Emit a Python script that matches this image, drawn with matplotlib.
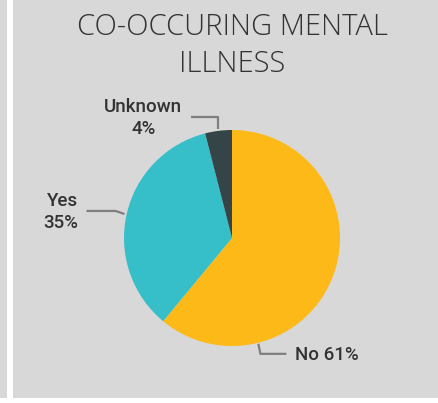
import numpy as np
import matplotlib

matplotlib.use("Agg")
import matplotlib.pyplot as plt
from matplotlib.patches import Rectangle

# data
labels = ["No", "Yes", "Unknown"]
shares = [61, 35, 4]
colors = ["#FDB918", "#36BFC8", "#344447"]
title = "CO-OCCURING MENTAL\nILLNESS"

W, H = 438, 403
PANEL = "#D8D8D8"
TEXT = "#333333"
LINE = "#7F7F7F"

fig = plt.figure(figsize=(W / 100, H / 100), dpi=100)
fig.patch.set_facecolor("white")
fig.patches.append(Rectangle((0, 5), 7, H - 5, transform=None, facecolor=PANEL,
                             edgecolor="none", zorder=-5))
fig.patches.append(Rectangle((13, 5), W - 13, H - 5, transform=None, facecolor=PANEL,
                             edgecolor="none", zorder=-5))

ax = fig.add_axes([0, 0, 1, 1])
ax.set_facecolor("none")

cx, cy, r = 232, H - 238, 108
ax.pie(shares, colors=colors, startangle=90, counterclock=False,
       center=(cx, cy), radius=r, wedgeprops=dict(linewidth=0))
ax.set_xlim(0, W)
ax.set_ylim(0, H)
ax.set_aspect("equal")
ax.axis("off")

fig.text(232 / W, 1 - 46 / H, title, ha="center", va="center", fontsize=21,
         color=TEXT, family="Open Sans", fontweight="light", linespacing=1.32)

# wedge mid angles (degrees), clockwise from 12 o'clock
ends = 90 - np.cumsum(shares) / 100 * 360
starts = np.r_[90, ends[:-1]]
mids = (starts + ends) / 2
mids[0] = -76  # "No" label sits at the bottom of its slice


def edge(a, k=1.0):
    t = np.deg2rad(a)
    return cx + k * r * np.cos(t), cy + k * r * np.sin(t)


lab_font = dict(fontsize=13.5, color=TEXT, family="Roboto", fontweight="medium")

# No
x0, y0 = edge(mids[0], 1.01)
ax.plot([x0, x0 + 2, x0 + 28], [y0, y0 - 10, y0 - 10], color=LINE, lw=1.6,
        solid_capstyle="butt")
ax.text(x0 + 37, y0 - 11, f"{labels[0]} {shares[0]}%", ha="left", va="center",
        **lab_font)

# Yes
x1, y1 = edge(mids[1], 1.02)
ax.plot([x1, x1 - 9, x1 - 38], [y1, y1 + 3, y1 + 3], color=LINE, lw=1.6,
        solid_capstyle="butt")
ax.text(x1 - 46, y1 + 2, f"{labels[1]}\n{shares[1]}%", ha="right", va="center",
        linespacing=1.3, **lab_font)

# Unknown
x2, y2 = edge(mids[2], 1.02)
ax.plot([x2, x2, x2 - 27], [y2, y2 + 12, y2 + 12], color=LINE, lw=1.6,
        solid_capstyle="butt")
ax.text(x2 - 36, y2 + 11, f"{labels[2]}\n{shares[2]}%", ha="right", va="center",
        linespacing=1.3, multialignment="center", **lab_font)

fig.savefig("out.png", dpi=100, facecolor=fig.get_facecolor())
